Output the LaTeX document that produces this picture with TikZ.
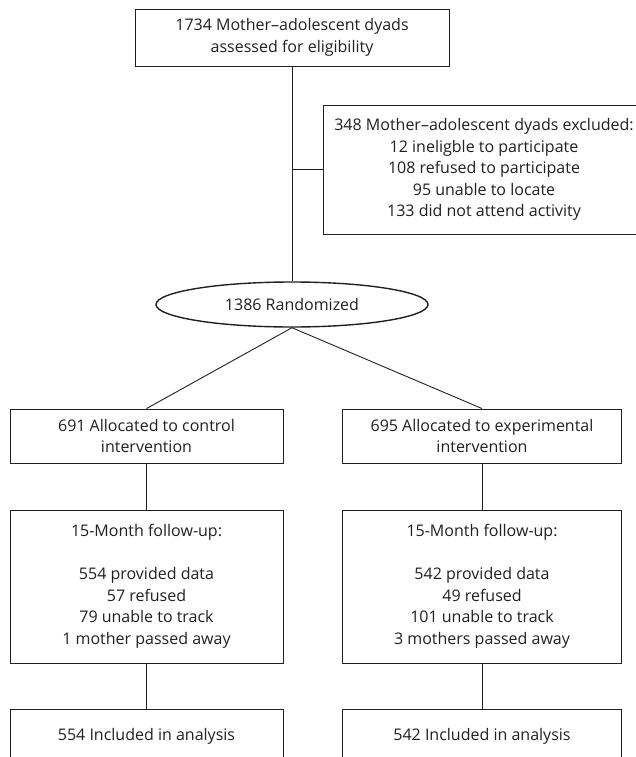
\documentclass[tikz,border=0pt]{standalone}
\usepackage{fontspec}
\setmainfont{Open Sans}
\usetikzlibrary{shapes.geometric}
\definecolor{sumi}{HTML}{231F20}

\begin{document}
\begin{tikzpicture}[x=1pt, y=-1pt, font=\fontsize{16}{21.5}\selectfont, color=sumi,
    box/.style={draw=sumi, line width=0.9pt, inner sep=0pt, align=center, minimum height=54pt},
    link/.style={draw=sumi, line width=0.9pt}]
    \useasboundingbox (0, 0) rectangle (636, 757);
    \clip (0, 0) rectangle (636, 757);

    % top
    \node[box, minimum width=314pt, minimum height=57pt] (screen) at (292, 37.5) {1734 Mother–adolescent dyads\\assessed for eligibility};
    \node[box, minimum width=322pt, minimum height=129pt] (excluded) at (484, 169.5) {348 Mother–adolescent dyads excluded:\\12 ineligble to participate\\108 refused to participate\\95 unable to locate\\133 did not attend activity};
    \node[ellipse, draw=sumi, line width=1.4pt, inner sep=0pt, minimum width=272pt, minimum height=45pt] (random) at (292, 304.5) {1386 Randomized};

    \coordinate (branch) at (screen.south |- excluded.west);
    \draw[link] (screen.south) -- (random.north);
    \draw[link] (branch) -- (excluded.west);

    % left
    \node[box, minimum width=273pt] (control) at (146.5, 436) {691 Allocated to control\\intervention};
    \node[box, minimum width=273pt, minimum height=153pt] (followctl) at (146.5, 586.5) {15-Month follow-up:\\[21.5pt]554 provided data\\57 refused\\79 unable to track\\1 mother passed away};
    \node[box, minimum width=273pt] (inclctl) at (146.5, 736) {554 Included in analysis};

    % right
    \node[box, minimum width=278.5pt] (experim) at (482, 436) {695 Allocated to experimental\\intervention};
    \node[box, minimum width=278.5pt, minimum height=153pt] (followexp) at (482, 586.5) {15-Month follow-up:\\[21.5pt]542 provided data\\49 refused\\101 unable to track\\3 mothers passed away};
    \node[box, minimum width=278.5pt] (inclexp) at (482, 736) {542 Included in analysis};

    \foreach \a / \b in {random.south/control.north, random.south/experim.north, control/followctl, followctl/inclctl, experim/followexp, followexp/inclexp}
        \draw[link] (\a) -- (\b);

\end{tikzpicture}
\end{document}
